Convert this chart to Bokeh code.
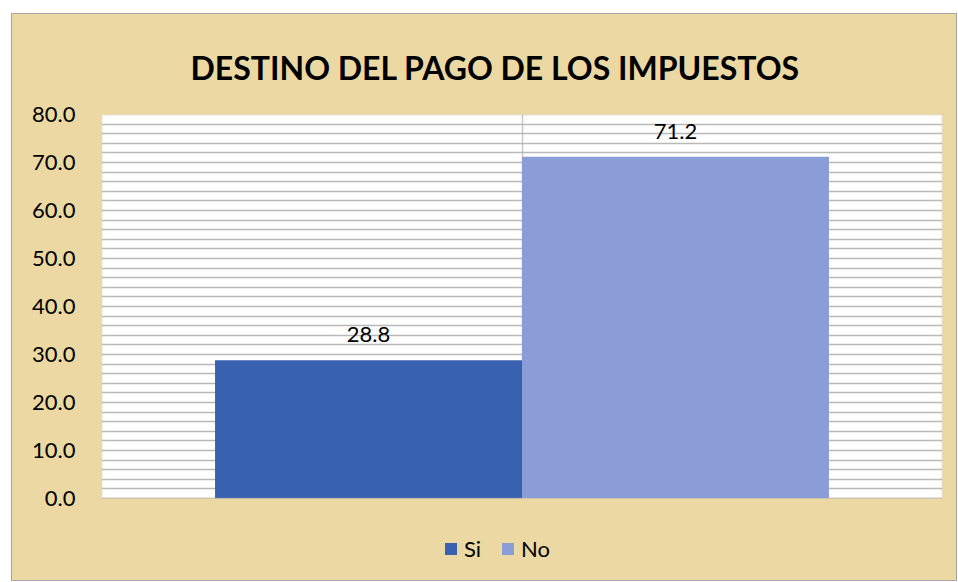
from bokeh.plotting import figure
from bokeh.models import (ColumnDataSource, Range1d, FixedTicker, SingleIntervalTicker,
                          LabelSet, Legend, LegendItem, NumeralTickFormatter, BoxAnnotation)
from bokeh.core.properties import value
from bokeh.embed import file_html
from bokeh.resources import INLINE

# ---- data ----
categories = ["Si", "No"]
values = [28.8, 71.2]
labels = ["28.8", "71.2"]
x_positions = [-0.365, 0.365]
bar_colors = ["#3862b0", "#8b9dd6"]
y_ticks = [0, 10, 20, 30, 40, 50, 60, 70, 80]
title_text = "DESTINO DEL PAGO DE LOS IMPUESTOS"

FONT = "Lato"
BG = "#ecd8a2"
Y_MIN, Y_MAX = 0, 80
PX_PER_UNIT = 4.8
BOTTOM_PAD_PX = 82

src = ColumnDataSource(dict(x=x_positions, top=values, cat=categories,
                            color=bar_colors, label=labels))

p = figure(width=944, height=566, x_range=Range1d(-1, 1),
           y_range=Range1d(Y_MIN - BOTTOM_PAD_PX / PX_PER_UNIT, Y_MAX),
           output_backend="svg", toolbar_location=None, x_axis_location=None,
           min_border_left=89, min_border_right=14, min_border_top=100,
           min_border_bottom=0)
p.margin = (14, 0, 0, 12)
p.styles = {"outline": "1px solid #a6a6a6", "background-color": BG}
p.border_fill_color = BG
p.background_fill_color = BG
p.outline_line_color = None

# title
p.title.text = title_text
p.title.align = "left"
p.title.offset = 89
p.title.text_font = FONT
p.title.text_font_style = "bold"
p.title.text_font_size = "32px"
p.title.text_color = "black"
p.title.standoff = 56

# white plot area (under the grid)
p.add_layout(BoxAnnotation(bottom=Y_MIN, top=Y_MAX, fill_color="white", fill_alpha=1,
                           line_color=None, line_alpha=0, level="image"))

# grids (plot area only)
p.ygrid.ticker = SingleIntervalTicker(interval=2)
p.ygrid.bounds = (Y_MIN, Y_MAX)
p.ygrid.grid_line_color = "#b9b9b9"
p.ygrid.grid_line_width = 1.5
p.xgrid.ticker = FixedTicker(ticks=[0])
p.xgrid.grid_line_color = "#c8c8c8"
p.xgrid.grid_line_width = 1.5

# bars
r = p.vbar(x="x", top="top", bottom=0, width=0.73, source=src,
           fill_color="color", line_color=None)

# plot-area border, then parchment below the plot area
p.add_layout(BoxAnnotation(bottom=Y_MIN, top=Y_MAX, fill_alpha=0, line_color="#b0b0b0",
                           line_width=2, level="annotation"))
p.add_layout(BoxAnnotation(top=Y_MIN, fill_color=BG, fill_alpha=1, line_color=None,
                           line_alpha=0, level="annotation"))

# data labels
lbl = LabelSet(x="x", y="top", text="label", source=src, y_offset=18,
               text_align="center", text_baseline="alphabetic",
               text_font=value(FONT), text_font_size=value("22px"), text_color="black")
p.add_layout(lbl)

# y axis
p.yaxis.ticker = FixedTicker(ticks=y_ticks)
p.yaxis.formatter = NumeralTickFormatter(format="0.0")
p.yaxis.axis_line_color = None
p.yaxis.major_tick_line_color = None
p.yaxis.minor_tick_line_color = None
p.yaxis.major_tick_out = 0
p.yaxis.major_label_standoff = 26
p.yaxis.major_label_text_font = FONT
p.yaxis.major_label_text_font_size = "22px"
p.yaxis.major_label_text_color = "black"

# legend (below the plot area, inside the frame)
legend = Legend(items=[LegendItem(label=categories[i], renderers=[r], index=i)
                       for i in range(len(categories))],
                orientation="horizontal", location=(342, 18))
legend.glyph_width = 15
legend.glyph_height = 15
legend.label_standoff = 6
legend.spacing = 16
legend.padding = 0
legend.margin = 0
legend.label_text_font = FONT
legend.label_text_font_size = "22px"
legend.label_text_color = "black"
legend.background_fill_alpha = 0
legend.border_line_color = None
p.add_layout(legend)

open("out.html", "w").write(file_html(p, INLINE))
